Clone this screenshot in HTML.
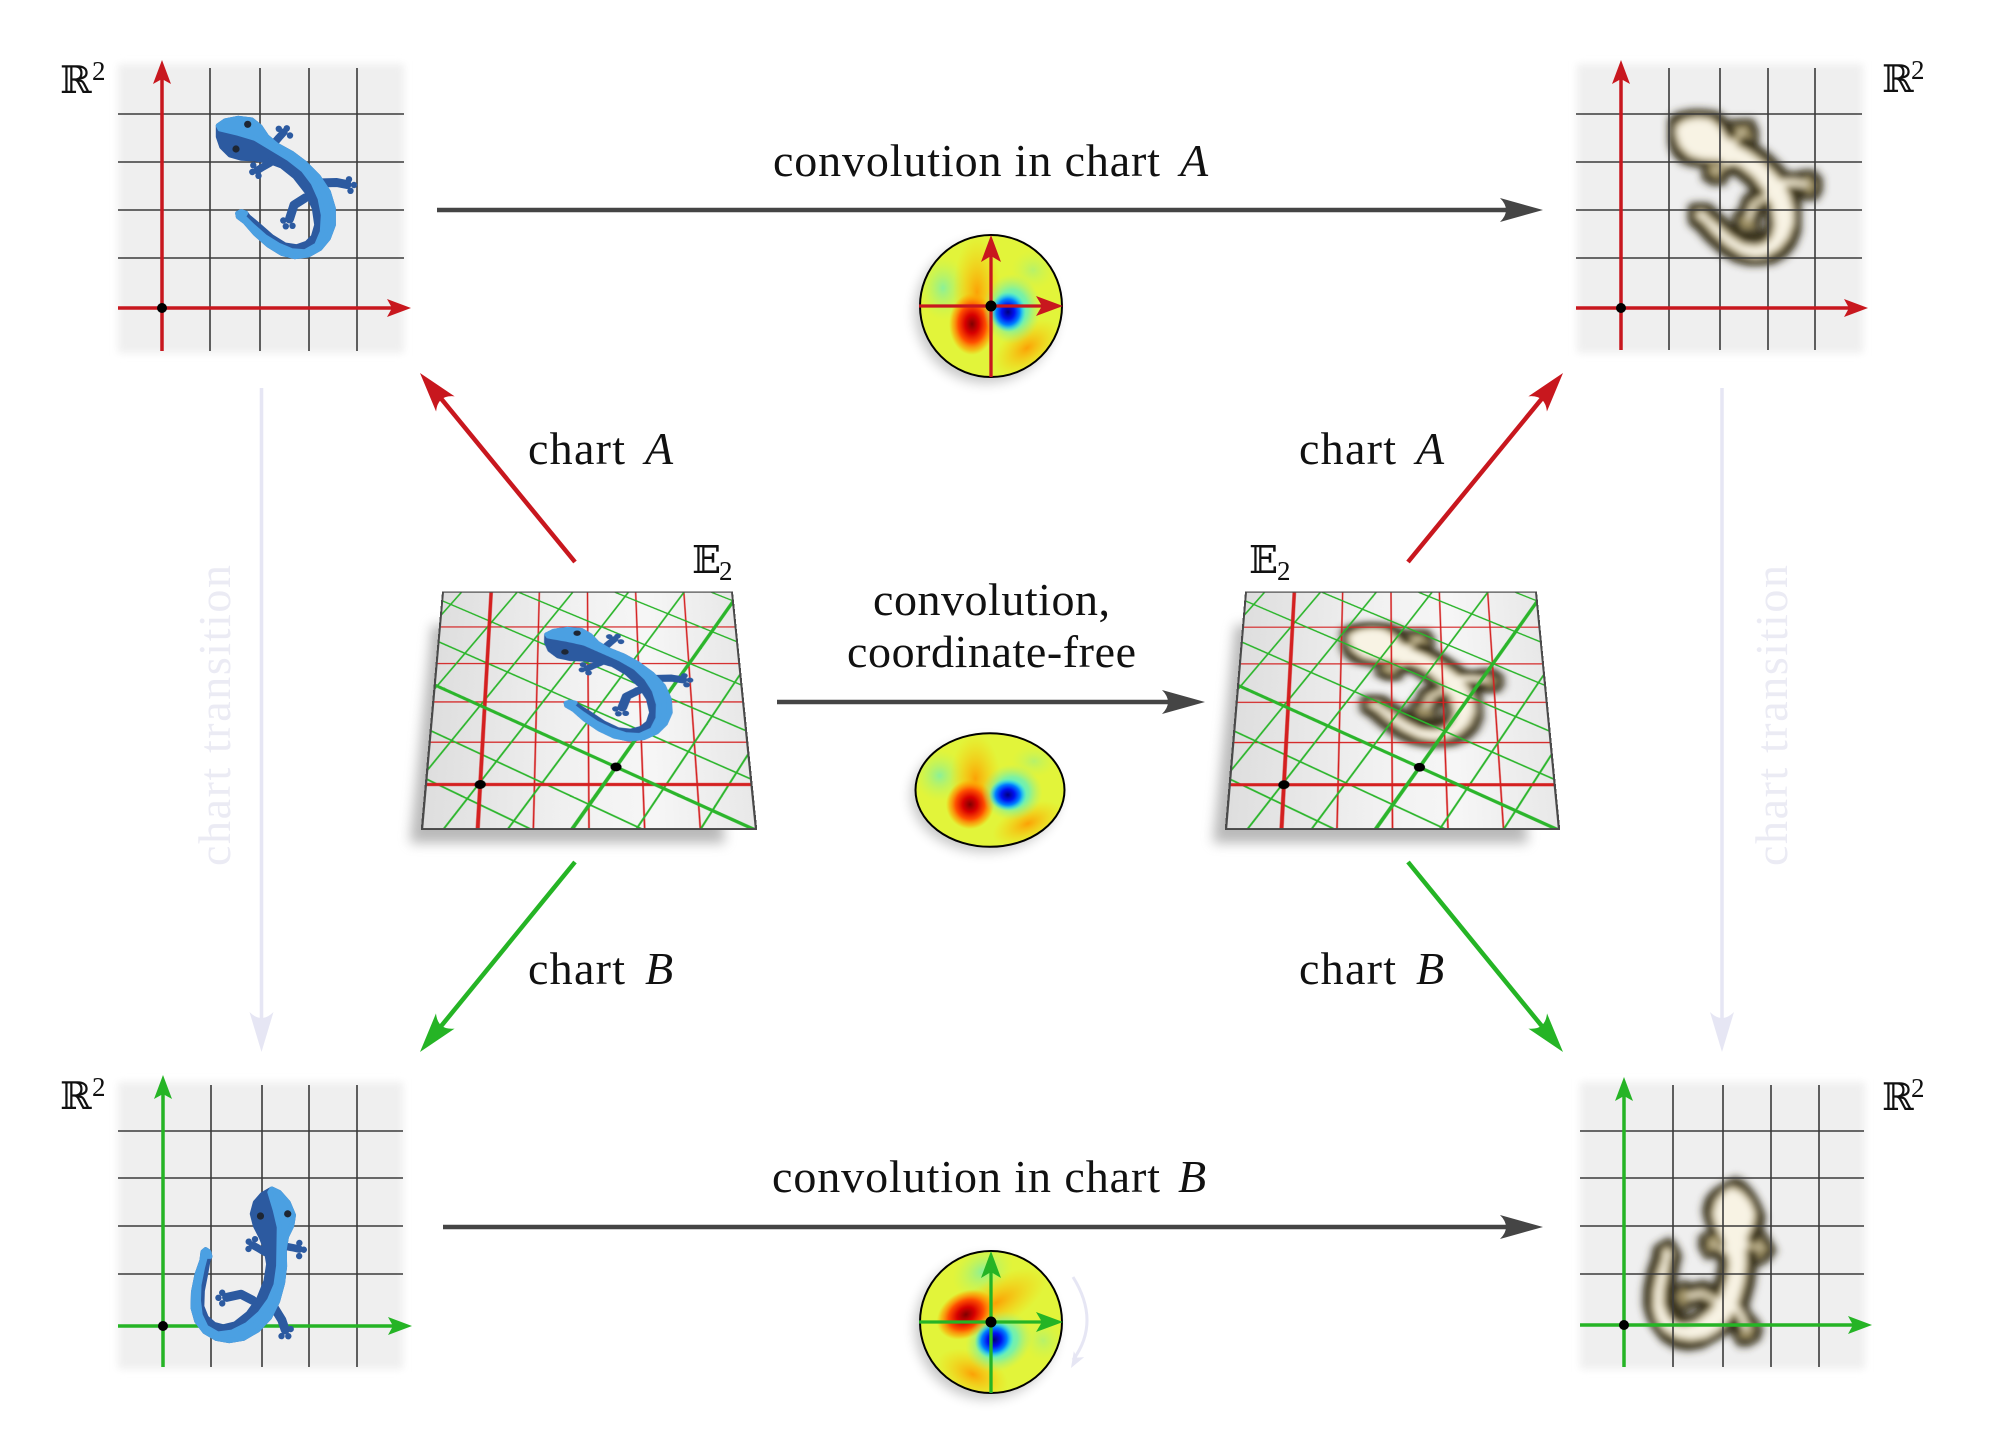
<!DOCTYPE html>
<html><head><meta charset="utf-8">
<style>
html,body{margin:0;padding:0;background:#fff;}
#wrap{position:relative;width:2000px;height:1430px;overflow:hidden;background:#fff;}
.pl{position:absolute;left:0;top:0;width:288px;height:288px;transform-origin:0 0;}
.pl svg{display:block;overflow:visible;}
text{font-family:"Liberation Serif","DejaVu Serif",serif;}
</style></head>
<body><div id="wrap">
<svg width="2000" height="1430" viewBox="0 0 2000 1430" style="position:absolute;left:0;top:0">
<defs>
 <filter id="b4" x="-20%" y="-20%" width="140%" height="140%"><feGaussianBlur stdDeviation="4"/></filter>
 <filter id="b6" x="-30%" y="-30%" width="160%" height="160%"><feGaussianBlur stdDeviation="6"/></filter>
 <filter id="fm" x="-40%" y="-40%" width="180%" height="180%">
  <feMorphology in="SourceAlpha" operator="dilate" radius="6.5" result="d"/>
  <feGaussianBlur in="d" stdDeviation="4" result="db"/>
  <feFlood flood-color="#3a3422" flood-opacity="1" result="dc"/>
  <feComposite in="dc" in2="db" operator="in" result="dark"/>
  <feGaussianBlur in="SourceAlpha" stdDeviation="3.5" result="tb"/>
  <feFlood flood-color="#a89a6c" result="tc"/>
  <feComposite in="tc" in2="tb" operator="in" result="tan"/>
  <feMorphology in="SourceAlpha" operator="erode" radius="2.5" result="e"/>
  <feGaussianBlur in="e" stdDeviation="3.5" result="eb"/>
  <feFlood flood-color="#f8f3e4" result="lc"/>
  <feComposite in="lc" in2="eb" operator="in" result="light"/>
  <feMerge><feMergeNode in="dark"/><feMergeNode in="tan"/><feMergeNode in="light"/></feMerge>
 </filter>
 <linearGradient id="pg" x1="0" y1="0" x2="1" y2="0">
  <stop offset="0" stop-color="#dedede"/><stop offset=".45" stop-color="#f1f1f1"/><stop offset=".7" stop-color="#f6f6f6"/><stop offset="1" stop-color="#e8e8e8"/>
 </linearGradient>
 <radialGradient id="kR"><stop offset="0" stop-color="#800000"/><stop offset=".3" stop-color="#d80000"/><stop offset=".6" stop-color="#ff5000"/><stop offset=".85" stop-color="#ff9a00" stop-opacity=".6"/><stop offset="1" stop-color="#ffb000" stop-opacity="0"/></radialGradient>
 <radialGradient id="kB"><stop offset="0" stop-color="#000080"/><stop offset=".35" stop-color="#0010f0"/><stop offset=".65" stop-color="#0080ff"/><stop offset="1" stop-color="#20e0ff" stop-opacity="0"/></radialGradient>
 <radialGradient id="kO"><stop offset="0" stop-color="#ff9800" stop-opacity=".9"/><stop offset="1" stop-color="#ffc800" stop-opacity="0"/></radialGradient>
 <radialGradient id="kC"><stop offset="0" stop-color="#7cf0a8" stop-opacity=".85"/><stop offset="1" stop-color="#b8f560" stop-opacity="0"/></radialGradient>
 <radialGradient id="kC2"><stop offset="0" stop-color="#30e8ff"/><stop offset=".55" stop-color="#50f0d0" stop-opacity=".7"/><stop offset="1" stop-color="#a0f080" stop-opacity="0"/></radialGradient>
 <clipPath id="kc"><circle cx="0" cy="0" r="71"/></clipPath>
 <g id="kern">
  <g clip-path="url(#kc)">
   <rect x="-75" y="-75" width="150" height="150" fill="#e2f43a"/>
   <ellipse cx="-48" cy="-18" rx="24" ry="32" fill="url(#kC)"/>
   <ellipse cx="42" cy="-36" rx="22" ry="20" fill="url(#kC)" opacity=".5"/>
   <ellipse cx="-14" cy="-14" rx="24" ry="56" fill="url(#kO)"/>
   <ellipse cx="36" cy="42" rx="38" ry="22" fill="url(#kO)" transform="rotate(-35 36 42)"/>
   <ellipse cx="-19" cy="18" rx="23" ry="31" fill="url(#kR)"/>
   <ellipse cx="21" cy="3" rx="29" ry="35" fill="url(#kC2)"/>
   <ellipse cx="17" cy="6" rx="18" ry="20" fill="url(#kB)"/>
  </g>
 </g>
 <polygon id="lbody" points="218.3,125.7 225,121 238.3,118.3 251.7,120 260,126.7 266.7,136.7 276.7,145 291.7,153.3 305,163.3 318.3,176.7 328.3,191.7 333.3,208.3 333.3,225 328.3,238.3 320,248.3 308.3,255 295,256.7 281.7,253.3 268.3,245 255,233.3 245,221.7 238.3,216.7 237.7,213.3 241,211.7 245.7,213 248.3,216.7 258.3,225 271.7,236.7 285,245 296.7,246.7 306.7,243.3 313.3,236.7 316.7,225 314.3,208.3 306.7,191.7 295,176.7 281.7,166 268.3,161 255,159 241.7,158.3 230,155 221.7,146.7 218.3,136.7"/>
 <g id="llegs" fill="none" stroke-linecap="round" stroke-linejoin="round">
  <path d="M271.7,146 L279,137.5 L284,132" stroke-width="7.5"/>
  <path d="M270,163 L262,167.5 L257,170.5" stroke-width="7.5"/>
  <path d="M318,183 L336.7,182.5 L347,184.5" stroke-width="9"/>
  <path d="M305,198 L294,205 L289.5,219" stroke-width="9"/>
 </g>
 <g id="ltoes">
  <circle cx="278.8" cy="128.8" r="3.2"/><circle cx="286.8" cy="128.3" r="3.2"/><circle cx="290" cy="135.5" r="3.2"/>
  <circle cx="253.3" cy="165.3" r="3.2"/><circle cx="252.3" cy="172" r="3.2"/><circle cx="258.5" cy="175.8" r="3.2"/>
  <circle cx="349" cy="179.3" r="3.2"/><circle cx="354" cy="185" r="3.2"/><circle cx="350.5" cy="190.8" r="3.2"/>
  <circle cx="283.3" cy="220.5" r="3.2"/><circle cx="285.8" cy="226.3" r="3.2"/><circle cx="292.5" cy="225.8" r="3.2"/>
 </g>
 <g id="liz">
  <use href="#llegs" stroke="#2c5aa0"/>
  <use href="#ltoes" fill="#2c5aa0"/>
  <use href="#lbody" fill="#2c5aa0" stroke="#2c5aa0" stroke-width="5" stroke-linejoin="round"/>
  <polygon fill="#4ba0e2" stroke="#4ba0e2" stroke-width="5" stroke-linejoin="round" points="218.3,125.7 225,121 238.3,118.3 251.7,120 260,126.7 266.7,136.7 276.7,145 291.7,153.3 305,163.3 318.3,176.7 328.3,191.7 333.3,208.3 333.3,225 328.3,238.3 320,248.3 308.3,255 295,256.7 281.7,253.3 268.3,245 255,233.3 245,221.7 238.3,216.7 237.7,213.3 241,211.7 245.7,213 243.3,216.7 251.7,225 265,236.7 278.3,245 291.7,250.7 305,251.7 316.7,245 322.3,231.7 323.3,215 320,198.3 313.3,183.3 303.3,170 288.3,158.3 271.7,148.3 255,138.3 238.3,133.3 220,129"/>
  <circle cx="247.7" cy="124.3" r="3.6" fill="#1e2633"/>
  <circle cx="236" cy="149" r="3.6" fill="#1e2633"/>
 </g>
 <g id="lizsil">
  <use href="#llegs" stroke="#000"/>
  <use href="#ltoes" fill="#000"/>
  <use href="#lbody" fill="#000" stroke="#000" stroke-width="5" stroke-linejoin="round"/>
 </g>
 <path id="hd" d="M0,0 L-24,-9 L-19,0 L-24,9 Z"/>
 <path id="hk" d="M0,0 L-27,-10 L-21,0 L-27,10 Z"/>
 <path id="hb" d="M0,0 L-43,-12 Q-31,0 -43,12 Z"/>
 <path id="hg" d="M0,0 L-40,-12 Q-28,0 -40,12 Z"/>
</defs>

<!-- faint chart transition arrows -->
<g stroke="#e6e6f4" stroke-width="3.5" fill="none">
 <line x1="261.5" y1="388" x2="261.5" y2="1020"/>
 <line x1="1722" y1="388" x2="1722" y2="1020"/>
 <path d="M1073,1277 Q1101,1322 1073,1360" stroke-width="3"/>
</g>
<g fill="#e6e6f4">
 <use href="#hg" transform="translate(261.5,1052) rotate(90)"/>
 <use href="#hg" transform="translate(1722,1052) rotate(90)"/>
 <path d="M0,0 L-16,-6 L-12,0 L-16,6Z" transform="translate(1071,1368) rotate(120)"/>
</g>
<text transform="translate(230,866) rotate(-90)" font-size="46" fill="#ebebf4" textLength="301" lengthAdjust="spacing">chart transition</text>
<text transform="translate(1787,866) rotate(-90)" font-size="46" fill="#ebebf4" textLength="301" lengthAdjust="spacing">chart transition</text>

<!-- TOP-LEFT BOX -->
<rect x="118" y="64" width="286" height="289" fill="#efefef" filter="url(#b4)"/>
<g stroke="#3a3a3a" stroke-width="1.6">
 <line x1="210" y1="68" x2="210" y2="351"/><line x1="260" y1="68" x2="260" y2="351"/><line x1="309" y1="68" x2="309" y2="351"/><line x1="357" y1="68" x2="357" y2="351"/>
 <line x1="118" y1="114" x2="404" y2="114"/><line x1="118" y1="162" x2="404" y2="162"/><line x1="118" y1="210" x2="404" y2="210"/><line x1="118" y1="258" x2="404" y2="258"/>
</g>
<g stroke="#c8171e" stroke-width="3.5"><line x1="162" y1="351" x2="162" y2="78"/><line x1="118" y1="308" x2="394" y2="308"/></g>
<g fill="#c8171e"><use href="#hd" transform="translate(162,60) rotate(-90)"/><use href="#hd" transform="translate(411,308)"/></g>
<use href="#liz"/>
<circle cx="162" cy="308" r="5" fill="#000"/>

<!-- TOP-RIGHT BOX -->
<rect x="1577" y="64" width="286" height="289" fill="#efefef" filter="url(#b4)"/>
<use href="#lizsil" transform="translate(1459,0)" filter="url(#fm)"/>
<g stroke="#3a3a3a" stroke-width="1.6">
 <line x1="1669" y1="68" x2="1669" y2="350"/><line x1="1720" y1="68" x2="1720" y2="350"/><line x1="1768" y1="68" x2="1768" y2="350"/><line x1="1815" y1="68" x2="1815" y2="350"/>
 <line x1="1576" y1="114" x2="1862" y2="114"/><line x1="1576" y1="162" x2="1862" y2="162"/><line x1="1576" y1="210" x2="1862" y2="210"/><line x1="1576" y1="258" x2="1862" y2="258"/>
</g>
<g stroke="#c8171e" stroke-width="3.5"><line x1="1621" y1="350" x2="1621" y2="78"/><line x1="1576" y1="308" x2="1851" y2="308"/></g>
<g fill="#c8171e"><use href="#hd" transform="translate(1621,60) rotate(-90)"/><use href="#hd" transform="translate(1868,308)"/></g>
<circle cx="1621" cy="308" r="5" fill="#000"/>

<!-- BOTTOM-LEFT BOX -->
<rect x="118" y="1082" width="285" height="287" fill="#efefef" filter="url(#b4)"/>
<g stroke="#3a3a3a" stroke-width="1.6">
 <line x1="211" y1="1085" x2="211" y2="1367"/><line x1="262" y1="1085" x2="262" y2="1367"/><line x1="309" y1="1085" x2="309" y2="1367"/><line x1="357" y1="1085" x2="357" y2="1367"/>
 <line x1="118" y1="1131" x2="403" y2="1131"/><line x1="118" y1="1178" x2="403" y2="1178"/><line x1="118" y1="1226" x2="403" y2="1226"/><line x1="118" y1="1274" x2="403" y2="1274"/>
</g>
<g stroke="#25b425" stroke-width="3.5"><line x1="163" y1="1367" x2="163" y2="1093"/><line x1="118" y1="1326" x2="395" y2="1326"/></g>
<g fill="#25b425"><use href="#hd" transform="translate(163,1075) rotate(-90)"/><use href="#hd" transform="translate(412,1326)"/></g>
<circle cx="163" cy="1326" r="5" fill="#000"/>
<use href="#liz" transform="translate(163,1326) rotate(60) translate(-282.5,-288.4)"/>

<!-- BOTTOM-RIGHT BOX -->
<rect x="1580" y="1082" width="285" height="287" fill="#efefef" filter="url(#b4)"/>
<use href="#lizsil" transform="translate(1624,1325) rotate(60) translate(-282.5,-288.4)" filter="url(#fm)"/>
<g stroke="#3a3a3a" stroke-width="1.6">
 <line x1="1673" y1="1085" x2="1673" y2="1367"/><line x1="1723" y1="1085" x2="1723" y2="1367"/><line x1="1771" y1="1085" x2="1771" y2="1367"/><line x1="1819" y1="1085" x2="1819" y2="1367"/>
 <line x1="1580" y1="1131" x2="1864" y2="1131"/><line x1="1580" y1="1178" x2="1864" y2="1178"/><line x1="1580" y1="1226" x2="1864" y2="1226"/><line x1="1580" y1="1274" x2="1864" y2="1274"/>
</g>
<g stroke="#25b425" stroke-width="3.5"><line x1="1624" y1="1367" x2="1624" y2="1095"/><line x1="1580" y1="1325" x2="1855" y2="1325"/></g>
<g fill="#25b425"><use href="#hd" transform="translate(1624,1077) rotate(-90)"/><use href="#hd" transform="translate(1872,1325)"/></g>
<circle cx="1624" cy="1325" r="5" fill="#000"/>

<!-- R^2 and E_2 labels -->
<g fill="#111">
 <text x="60" y="93" font-size="38" font-family="'DejaVu Serif','DejaVu Sans',serif">ℝ</text><text x="92" y="80" font-size="27">2</text>
 <text x="1882" y="92" font-size="38" font-family="'DejaVu Serif','DejaVu Sans',serif">ℝ</text><text x="1911" y="79" font-size="27">2</text>
 <text x="60" y="1109" font-size="38" font-family="'DejaVu Serif','DejaVu Sans',serif">ℝ</text><text x="92" y="1096" font-size="27">2</text>
 <text x="1882" y="1110" font-size="38" font-family="'DejaVu Serif','DejaVu Sans',serif">ℝ</text><text x="1911" y="1097" font-size="27">2</text>
 <text x="692" y="573" font-size="38" font-family="'DejaVu Serif','DejaVu Sans',serif">𝔼</text><text x="719" y="580" font-size="27">2</text>
 <text x="1249" y="573" font-size="38" font-family="'DejaVu Serif','DejaVu Sans',serif">𝔼</text><text x="1277" y="580" font-size="27">2</text>
</g>

<!-- horizontal dark arrows -->
<g stroke="#454545" stroke-width="4.5">
 <line x1="437" y1="210" x2="1515" y2="210"/>
 <line x1="777" y1="702" x2="1178" y2="702"/>
 <line x1="443" y1="1227" x2="1515" y2="1227"/>
</g>
<g fill="#454545">
 <use href="#hb" transform="translate(1543,210)"/>
 <use href="#hb" transform="translate(1205,702)"/>
 <use href="#hb" transform="translate(1543,1227)"/>
</g>

<!-- diagonal arrows -->
<g stroke-width="4.5">
 <line x1="575" y1="562" x2="437.8" y2="394.6" stroke="#c8171e"/>
 <line x1="1408" y1="562" x2="1545.2" y2="394.6" stroke="#c8171e"/>
 <line x1="575" y1="862" x2="437.7" y2="1030.3" stroke="#25b425"/>
 <line x1="1408" y1="862" x2="1545.3" y2="1030.3" stroke="#25b425"/>
</g>
<use href="#hg" fill="#c8171e" transform="translate(420,373) rotate(-129.35)"/>
<use href="#hg" fill="#c8171e" transform="translate(1563,373) rotate(-50.65)"/>
<use href="#hg" fill="#25b425" transform="translate(420,1052) rotate(129.2)"/>
<use href="#hg" fill="#25b425" transform="translate(1563,1052) rotate(50.8)"/>

<!-- labels -->
<g fill="#111" font-size="46">
 <text x="773" y="176" textLength="387" lengthAdjust="spacing">convolution in chart</text>
 <text x="1180" y="176" font-style="italic">A</text>
 <text x="772" y="1192" textLength="388" lengthAdjust="spacing">convolution in chart</text>
 <text x="1178" y="1192" font-style="italic">B</text>
 <text x="873" y="615" textLength="237" lengthAdjust="spacing">convolution,</text>
 <text x="847" y="667" textLength="289" lengthAdjust="spacing">coordinate-free</text>
 <text x="528" y="464" textLength="97" lengthAdjust="spacing">chart</text>
 <text x="645" y="464" font-style="italic">A</text>
 <text x="1299" y="464" textLength="97" lengthAdjust="spacing">chart</text>
 <text x="1416" y="464" font-style="italic">A</text>
 <text x="528" y="984" textLength="97" lengthAdjust="spacing">chart</text>
 <text x="645" y="984" font-style="italic">B</text>
 <text x="1299" y="984" textLength="97" lengthAdjust="spacing">chart</text>
 <text x="1416" y="984" font-style="italic">B</text>
</g>

<!-- kernels -->
<circle cx="986" cy="312" r="71" fill="#000" opacity=".22" filter="url(#b6)"/>
<ellipse cx="985" cy="796" rx="74" ry="56" fill="#000" opacity=".22" filter="url(#b6)"/>
<circle cx="986" cy="1328" r="71" fill="#000" opacity=".22" filter="url(#b6)"/>
<use href="#kern" transform="translate(991,306)"/>
<circle cx="991" cy="306" r="71" fill="none" stroke="#000" stroke-width="2"/>
<use href="#kern" transform="translate(990,790) scale(1.05,0.8)"/>
<ellipse cx="990" cy="790" rx="74.5" ry="56.8" fill="none" stroke="#000" stroke-width="2"/>
<use href="#kern" transform="translate(991,1322) rotate(60)"/>
<circle cx="991" cy="1322" r="71" fill="none" stroke="#000" stroke-width="2"/>
<g stroke="#c8171e" stroke-width="3.3"><line x1="991" y1="377" x2="991" y2="255"/><line x1="919" y1="306" x2="1045" y2="306"/></g>
<g fill="#c8171e"><use href="#hk" transform="translate(991,235) rotate(-90)"/><use href="#hk" transform="translate(1063,306)"/></g>
<circle cx="991" cy="306" r="5.5" fill="#000"/>
<g stroke="#25b425" stroke-width="3.3"><line x1="991" y1="1393" x2="991" y2="1271"/><line x1="919" y1="1322" x2="1045" y2="1322"/></g>
<g fill="#25b425"><use href="#hk" transform="translate(991,1251) rotate(-90)"/><use href="#hk" transform="translate(1063,1322)"/></g>
<circle cx="991" cy="1322" r="5.5" fill="#000"/>

<!-- plane shadows -->
<polygon points="432,625 700,625 725,843 410,843" fill="#808080" opacity=".55" filter="url(#b6)"/>
<polygon points="1235,625 1503,625 1528,843 1213,843" fill="#808080" opacity=".55" filter="url(#b6)"/>
</svg>

<!-- LEFT PLANE -->
<div class="pl" style="transform:matrix3d(1.003472,0,0,0,-0.270333,0.435097,0,-0.000467816,0,0,1,0,443,592,0,1);">
<svg width="288" height="288" viewBox="0 0 288 288">
 <defs><clipPath id="pc1"><rect x="0" y="0" width="288" height="288"/></clipPath></defs>
 <rect width="288" height="288" fill="url(#pg)"/>
 <g clip-path="url(#pc1)">
  <g stroke="#d42020" stroke-width="1.5">
   <line x1="96" y1="0" x2="96" y2="288"/><line x1="144" y1="0" x2="144" y2="288"/><line x1="192" y1="0" x2="192" y2="288"/><line x1="240" y1="0" x2="240" y2="288"/>
   <line x1="0" y1="48" x2="288" y2="48"/><line x1="0" y1="96" x2="288" y2="96"/><line x1="0" y1="144" x2="288" y2="144"/><line x1="0" y1="192" x2="288" y2="192"/>
  </g>
  <g transform="translate(168.5,220.4) rotate(30)" stroke="#2bb52b" stroke-width="1.8">
   <line x1="-336" y1="-360" x2="-336" y2="360"/><line x1="-288" y1="-360" x2="-288" y2="360"/><line x1="-240" y1="-360" x2="-240" y2="360"/><line x1="-192" y1="-360" x2="-192" y2="360"/><line x1="-144" y1="-360" x2="-144" y2="360"/><line x1="-96" y1="-360" x2="-96" y2="360"/><line x1="-48" y1="-360" x2="-48" y2="360"/>
   <line x1="48" y1="-360" x2="48" y2="360"/><line x1="96" y1="-360" x2="96" y2="360"/><line x1="144" y1="-360" x2="144" y2="360"/><line x1="192" y1="-360" x2="192" y2="360"/><line x1="240" y1="-360" x2="240" y2="360"/><line x1="288" y1="-360" x2="288" y2="360"/><line x1="336" y1="-360" x2="336" y2="360"/>
   <line y1="-336" x1="-360" y2="-336" x2="360"/><line y1="-288" x1="-360" y2="-288" x2="360"/><line y1="-240" x1="-360" y2="-240" x2="360"/><line y1="-192" x1="-360" y2="-192" x2="360"/><line y1="-144" x1="-360" y2="-144" x2="360"/><line y1="-96" x1="-360" y2="-96" x2="360"/><line y1="-48" x1="-360" y2="-48" x2="360"/>
   <line y1="48" x1="-360" y2="48" x2="360"/><line y1="96" x1="-360" y2="96" x2="360"/><line y1="144" x1="-360" y2="144" x2="360"/><line y1="192" x1="-360" y2="192" x2="360"/><line y1="240" x1="-360" y2="240" x2="360"/><line y1="288" x1="-360" y2="288" x2="360"/><line y1="336" x1="-360" y2="336" x2="360"/>
  </g>
  <g stroke="#d42020" stroke-width="3.5"><line x1="48" y1="0" x2="48" y2="288"/><line x1="0" y1="240" x2="288" y2="240"/></g>
  <g transform="translate(168.5,220.4) rotate(30)" stroke="#2bb52b" stroke-width="3.5"><line x1="0" y1="-360" x2="0" y2="360"/><line x1="-360" y1="0" x2="360" y2="0"/></g>
 </g>
 <use href="#liz" transform="translate(-114,-68)"/>
 <circle cx="48" cy="240" r="5" fill="#000"/>
 <circle cx="168.5" cy="220.4" r="5" fill="#000"/>
 <rect x="0" y="0" width="288" height="288" fill="none" stroke="#4a4a4a" stroke-width="2"/>
</svg></div>

<!-- RIGHT PLANE -->
<div class="pl" style="transform:matrix3d(1.006944,0,0,0,-0.619139,0.451222,0,-0.000448365,0,0,1,0,1246,592,0,1);">
<svg width="288" height="288" viewBox="0 0 288 288">
 <defs><clipPath id="pc2"><rect x="0" y="0" width="288" height="288"/></clipPath></defs>
 <rect width="288" height="288" fill="url(#pg)"/>
 <use href="#lizsil" transform="translate(-114,-68)" filter="url(#fm)"/>
 <g clip-path="url(#pc2)">
  <g stroke="#d42020" stroke-width="1.5">
   <line x1="96" y1="0" x2="96" y2="288"/><line x1="144" y1="0" x2="144" y2="288"/><line x1="192" y1="0" x2="192" y2="288"/><line x1="240" y1="0" x2="240" y2="288"/>
   <line x1="0" y1="48" x2="288" y2="48"/><line x1="0" y1="96" x2="288" y2="96"/><line x1="0" y1="144" x2="288" y2="144"/><line x1="0" y1="192" x2="288" y2="192"/>
  </g>
  <g transform="translate(168.5,220.4) rotate(30)" stroke="#2bb52b" stroke-width="1.8">
   <line x1="-336" y1="-360" x2="-336" y2="360"/><line x1="-288" y1="-360" x2="-288" y2="360"/><line x1="-240" y1="-360" x2="-240" y2="360"/><line x1="-192" y1="-360" x2="-192" y2="360"/><line x1="-144" y1="-360" x2="-144" y2="360"/><line x1="-96" y1="-360" x2="-96" y2="360"/><line x1="-48" y1="-360" x2="-48" y2="360"/>
   <line x1="48" y1="-360" x2="48" y2="360"/><line x1="96" y1="-360" x2="96" y2="360"/><line x1="144" y1="-360" x2="144" y2="360"/><line x1="192" y1="-360" x2="192" y2="360"/><line x1="240" y1="-360" x2="240" y2="360"/><line x1="288" y1="-360" x2="288" y2="360"/><line x1="336" y1="-360" x2="336" y2="360"/>
   <line y1="-336" x1="-360" y2="-336" x2="360"/><line y1="-288" x1="-360" y2="-288" x2="360"/><line y1="-240" x1="-360" y2="-240" x2="360"/><line y1="-192" x1="-360" y2="-192" x2="360"/><line y1="-144" x1="-360" y2="-144" x2="360"/><line y1="-96" x1="-360" y2="-96" x2="360"/><line y1="-48" x1="-360" y2="-48" x2="360"/>
   <line y1="48" x1="-360" y2="48" x2="360"/><line y1="96" x1="-360" y2="96" x2="360"/><line y1="144" x1="-360" y2="144" x2="360"/><line y1="192" x1="-360" y2="192" x2="360"/><line y1="240" x1="-360" y2="240" x2="360"/><line y1="288" x1="-360" y2="288" x2="360"/><line y1="336" x1="-360" y2="336" x2="360"/>
  </g>
  <g stroke="#d42020" stroke-width="3.5"><line x1="48" y1="0" x2="48" y2="288"/><line x1="0" y1="240" x2="288" y2="240"/></g>
  <g transform="translate(168.5,220.4) rotate(30)" stroke="#2bb52b" stroke-width="3.5"><line x1="0" y1="-360" x2="0" y2="360"/><line x1="-360" y1="0" x2="360" y2="0"/></g>
 </g>
 <circle cx="48" cy="240" r="5" fill="#000"/>
 <circle cx="168.5" cy="220.4" r="5" fill="#000"/>
 <rect x="0" y="0" width="288" height="288" fill="none" stroke="#4a4a4a" stroke-width="2"/>
</svg></div>

</div></body></html>
